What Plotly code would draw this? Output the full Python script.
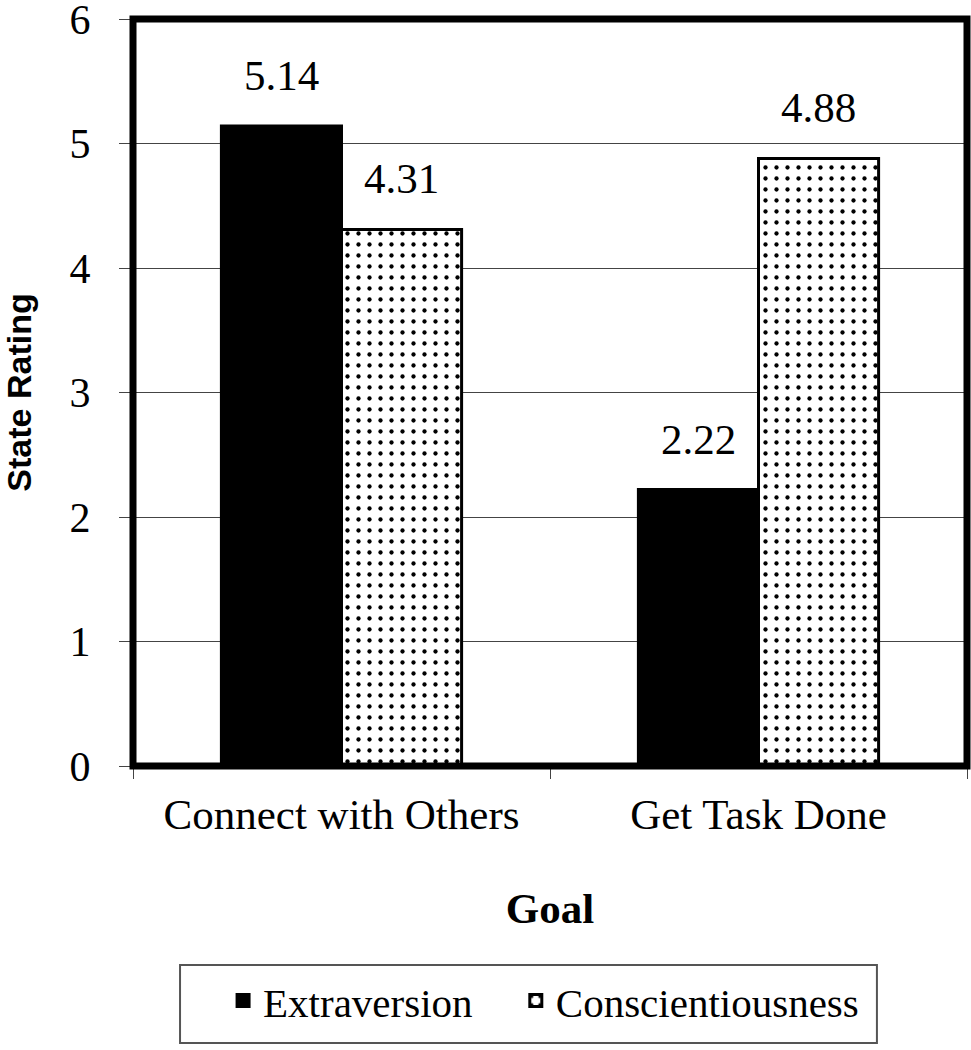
import plotly.graph_objects as go

categories = ["Connect with Others", "Get Task Done"]
extraversion = [5.14, 2.22]
conscientiousness = [4.31, 4.88]
y_ticks = [0, 1, 2, 3, 4, 5, 6]

SERIF = "Liberation Serif, Times New Roman, serif"
SANS = "Liberation Sans, Arial, sans-serif"

fig = go.Figure()
fig.add_trace(go.Bar(
    name="Extraversion", x=categories, y=extraversion, legend="legend",
    marker=dict(color="black", line=dict(color="black", width=3)),
))
fig.add_trace(go.Bar(
    name="Conscientiousness", x=categories, y=conscientiousness, legend="legend2",
    marker=dict(color="white", line=dict(color="black", width=3),
                pattern=dict(shape=".", size=11, solidity=0.12,
                             fgcolor="black", bgcolor="white", fgopacity=1)),
))

annotations = []
for series, shift in ((extraversion, -60), (conscientiousness, 60)):
    for cat, v in zip(categories, series):
        annotations.append(dict(
            x=cat, y=v, xref="x", yref="y", text=f"{v:.2f}",
            showarrow=False, yanchor="bottom", xanchor="center",
            xshift=shift, yshift=25,
            font=dict(family=SERIF, size=43, color="black"),
        ))

legend_common = dict(
    orientation="h", yanchor="middle", y=-0.3145, xanchor="left",
    font=dict(family=SERIF, size=41, color="black"),
    borderwidth=0, bgcolor="rgba(0,0,0,0)",
)

fig.update_layout(
    width=971, height=1050,
    margin=dict(l=133, r=4, t=19, b=284, autoexpand=False),
    paper_bgcolor="white", plot_bgcolor="white",
    barmode="group", bargap=0.424, bargroupgap=0,
    showlegend=True,
    legend=dict(x=0.108, **legend_common),
    legend2=dict(x=0.459, **legend_common),
    annotations=annotations,
    shapes=[
        dict(type="rect", xref="paper", yref="paper", x0=0, x1=1, y0=0, y1=1,
             line=dict(color="black", width=7), layer="above"),
        dict(type="rect", xref="paper", yref="paper", x0=0.0564, x1=0.892,
             y0=-0.2663, y1=-0.3707, line=dict(color="#555", width=2), layer="below"),
    ],
)

fig.update_xaxes(
    type="category", showline=False, showgrid=False, automargin=False,
    ticks="outside", ticklen=12, tickwidth=1, tickcolor="#444",
    tickson="boundaries", ticklabelstandoff=19,
    tickfont=dict(family=SERIF, size=43, color="black"),
    title=dict(text="<b>Goal</b>", font=dict(family=SERIF, size=43, color="black"), standoff=55),
)
fig.update_yaxes(
    range=[0, 6], tickvals=y_ticks, showline=False, automargin=False,
    showgrid=True, gridcolor="#444", gridwidth=1, zeroline=False,
    ticks="outside", ticklen=13, tickwidth=1, tickcolor="#444",
    ticklabelstandoff=20, ticklabeloverflow="allow",
    tickfont=dict(family=SERIF, size=42, color="black"),
    title=dict(text="<b>State Rating</b>", font=dict(family=SANS, size=34, color="black"), standoff=44),
)

fig.write_html("out.html", config={"displayModeBar": False},
               post_script="document.body.style.margin='0';")
